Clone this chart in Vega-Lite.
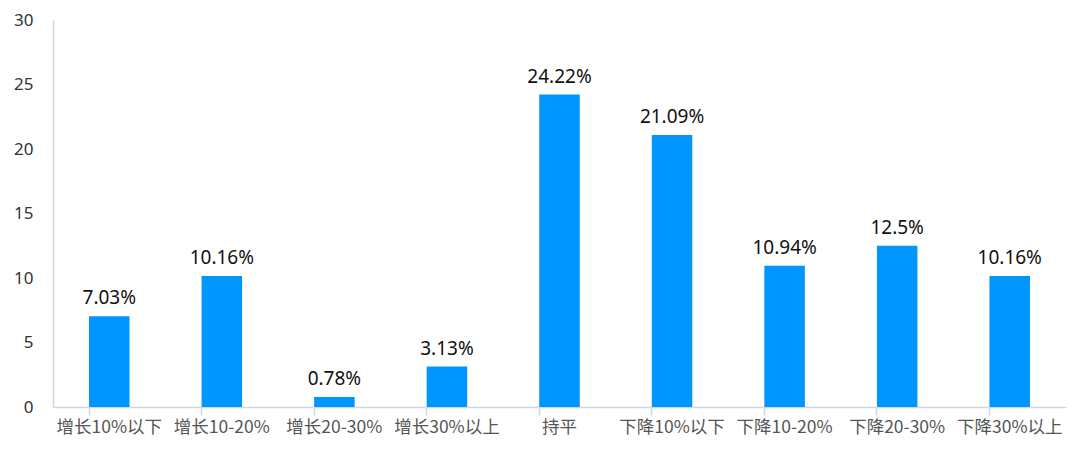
{
  "$schema": "https://vega.github.io/schema/vega-lite/v6.json",
  "autosize": "none",
  "width": 1013,
  "height": 387,
  "padding": {"left": 53, "top": 20, "right": 14, "bottom": 43},
  "background": "white",
  "config": {"view": {"stroke": null}, "font": "Noto Sans CJK SC"},
  "data": {"values": [
    {"cat": "增长10%以下", "v": 7.03, "label": "7.03%"},
    {"cat": "增长10-20%", "v": 10.16, "label": "10.16%"},
    {"cat": "增长20-30%", "v": 0.78, "label": "0.78%"},
    {"cat": "增长30%以上", "v": 3.13, "label": "3.13%"},
    {"cat": "持平", "v": 24.22, "label": "24.22%"},
    {"cat": "下降10%以下", "v": 21.09, "label": "21.09%"},
    {"cat": "下降10-20%", "v": 10.94, "label": "10.94%"},
    {"cat": "下降20-30%", "v": 12.5, "label": "12.5%"},
    {"cat": "下降30%以上", "v": 10.16, "label": "10.16%"}
  ]},
  "encoding": {
    "x": {"field": "cat", "type": "nominal", "sort": null,
      "scale": {"paddingInner": 0.64, "paddingOuter": 0.32},
      "axis": {"title": null, "labelAngle": 0, "bandPosition": 0, "ticks": true, "domainColor": "#cfd6e6", "tickColor": "#cfd6e6", "tickWidth": 1.5, "domainWidth": 1.5, "tickSize": 8, "labelFontSize": 17.5, "labelColor": "#555555", "labelPadding": 3, "labelFont": "Noto Sans CJK SC"}},
    "y": {"field": "v", "type": "quantitative",
      "scale": {"domain": [0, 30]},
      "axis": {"title": null, "values": [0, 5, 10, 15, 20, 25, 30], "grid": false, "ticks": false, "domainColor": "#cfd6e6", "domainWidth": 1.5, "labelPadding": 20, "labelFontSize": 17, "labelColor": "#333333", "labelFont": "Noto Sans"}}
  },
  "layer": [
    {"mark": {"type": "bar", "color": "#0095ff"}},
    {"mark": {"type": "text", "dy": -18, "fontSize": 19, "color": "#111111", "font": "Noto Sans"},
      "encoding": {"text": {"field": "label"}}}
  ]
}
